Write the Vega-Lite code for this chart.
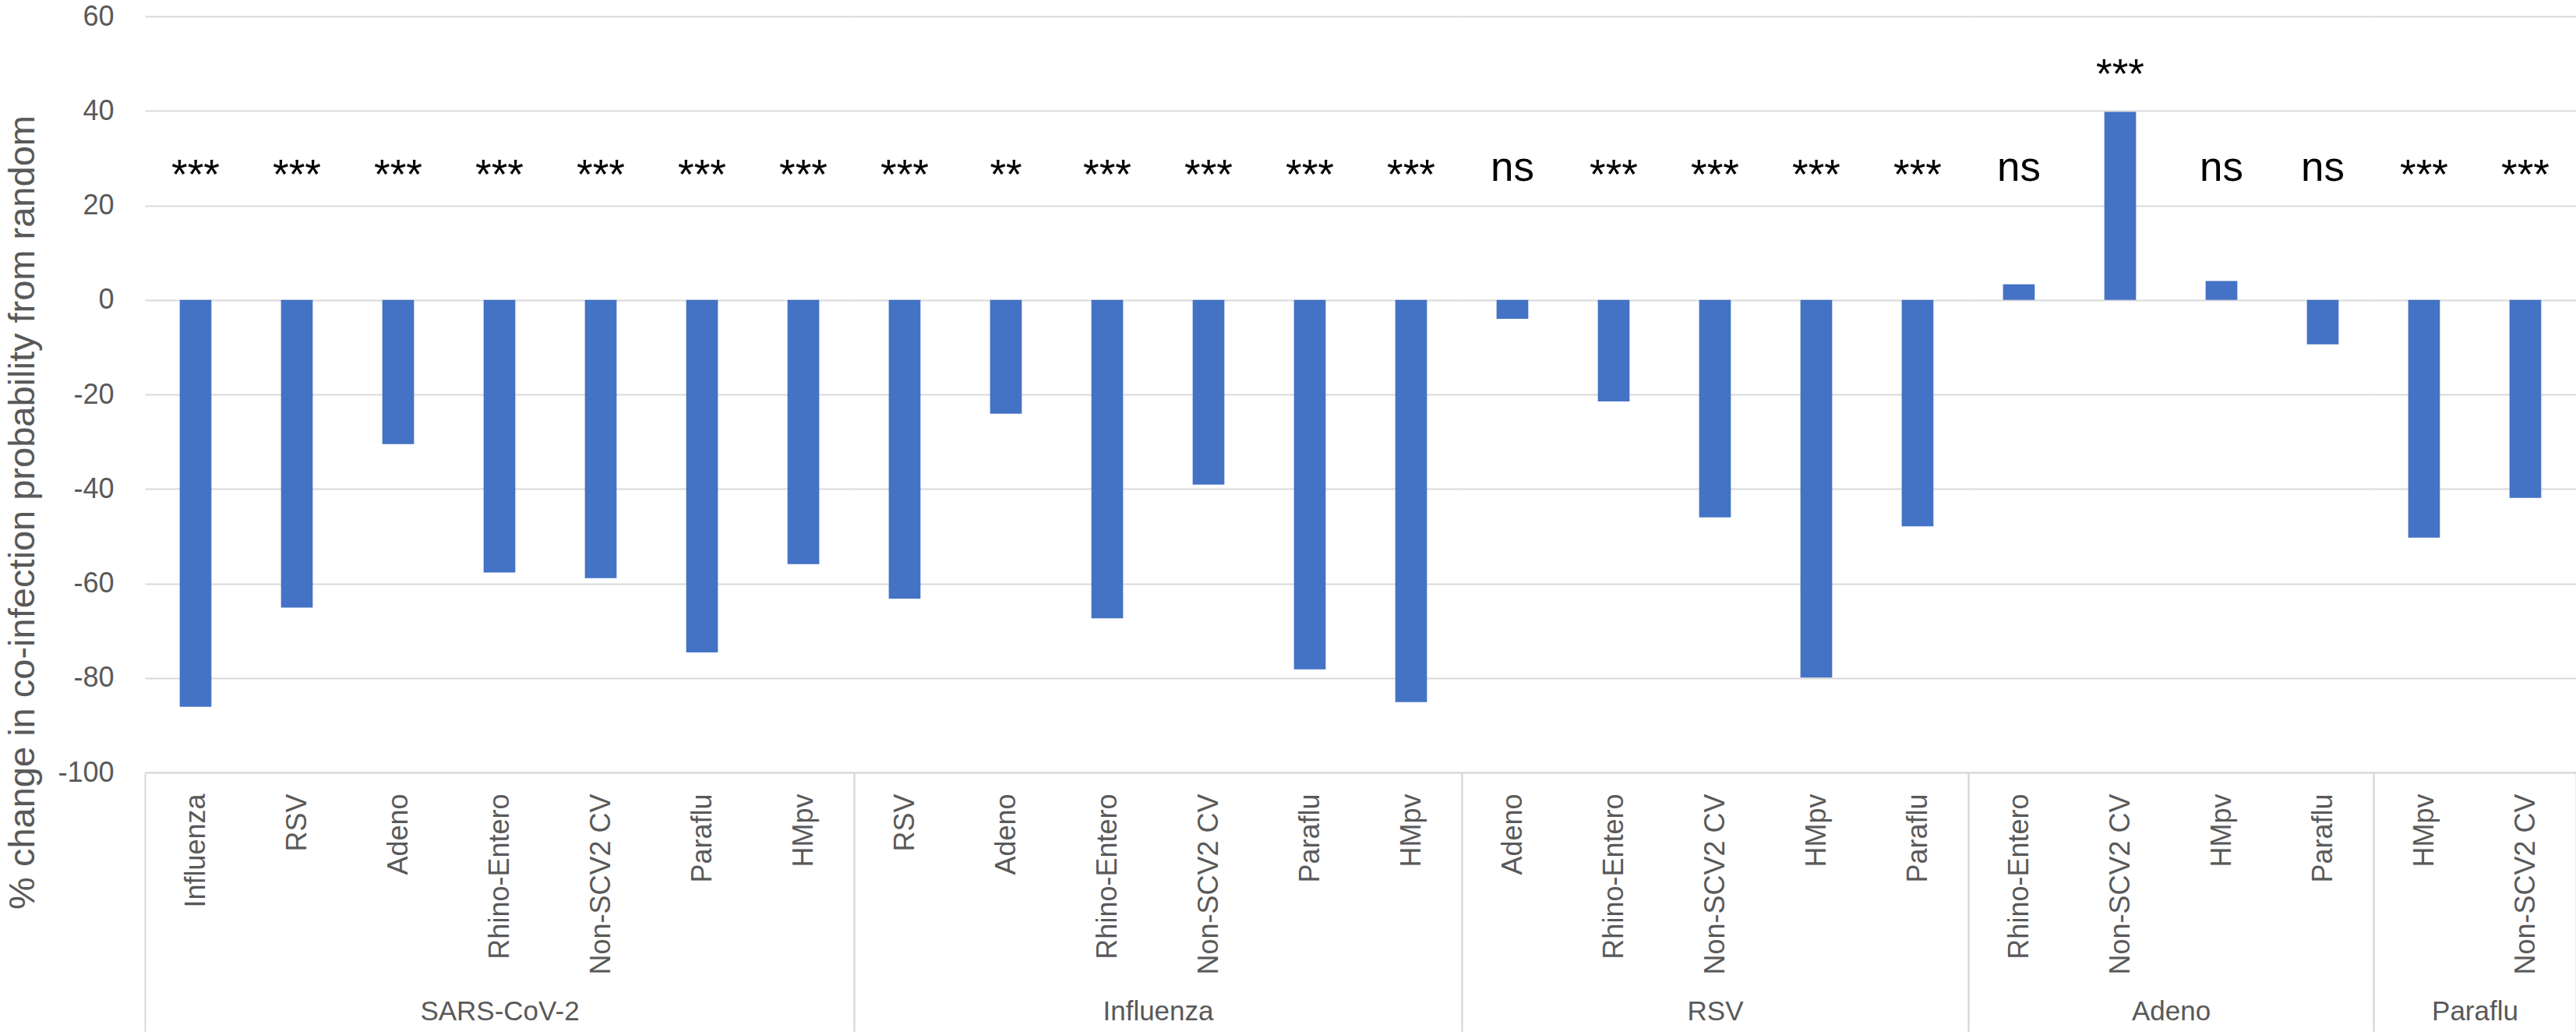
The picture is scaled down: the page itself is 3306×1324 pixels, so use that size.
{
  "$schema": "https://vega.github.io/schema/vega-lite/v6.json",
  "padding": {"left": 5, "top": 3, "right": 2, "bottom": 0},
  "background": "white",
  "data": {"values": [
    {"group": "SARS-CoV-2", "sub": "Influenza", "value": -86.1, "sig": "***"},
    {"group": "SARS-CoV-2", "sub": "RSV", "value": -65.1, "sig": "***"},
    {"group": "SARS-CoV-2", "sub": "Adeno", "value": -30.5, "sig": "***"},
    {"group": "SARS-CoV-2", "sub": "Rhino-Entero", "value": -57.7, "sig": "***"},
    {"group": "SARS-CoV-2", "sub": "Non-SCV2 CV", "value": -58.9, "sig": "***"},
    {"group": "SARS-CoV-2", "sub": "Paraflu", "value": -74.6, "sig": "***"},
    {"group": "SARS-CoV-2", "sub": "HMpv", "value": -55.9, "sig": "***"},
    {"group": "Influenza", "sub": "RSV", "value": -63.2, "sig": "***"},
    {"group": "Influenza", "sub": "Adeno", "value": -24.1, "sig": "**"},
    {"group": "Influenza", "sub": "Rhino-Entero", "value": -67.4, "sig": "***"},
    {"group": "Influenza", "sub": "Non-SCV2 CV", "value": -39.1, "sig": "***"},
    {"group": "Influenza", "sub": "Paraflu", "value": -78.2, "sig": "***"},
    {"group": "Influenza", "sub": "HMpv", "value": -85.1, "sig": "***"},
    {"group": "RSV", "sub": "Adeno", "value": -4.0, "sig": "ns"},
    {"group": "RSV", "sub": "Rhino-Entero", "value": -21.5, "sig": "***"},
    {"group": "RSV", "sub": "Non-SCV2 CV", "value": -46.0, "sig": "***"},
    {"group": "RSV", "sub": "HMpv", "value": -79.9, "sig": "***"},
    {"group": "RSV", "sub": "Paraflu", "value": -47.9, "sig": "***"},
    {"group": "Adeno", "sub": "Rhino-Entero", "value": 3.3, "sig": "ns"},
    {"group": "Adeno", "sub": "Non-SCV2 CV", "value": 39.8, "sig": "***"},
    {"group": "Adeno", "sub": "HMpv", "value": 4.0, "sig": "ns"},
    {"group": "Adeno", "sub": "Paraflu", "value": -9.4, "sig": "ns"},
    {"group": "Paraflu", "sub": "HMpv", "value": -50.3, "sig": "***"},
    {"group": "Paraflu", "sub": "Non-SCV2 CV", "value": -41.9, "sig": "***"}
  ]},
  "transform": [
    {"calculate": "datum.value > 20 ? datum.value + 5 : (datum.sig == 'ns' ? 25.2 : 23.5)", "as": "ly"}
  ],
  "spacing": 0,
  "bounds": "flush",
  "resolve": {"scale": {"x": "independent", "y": "independent"}, "axis": {"x": "independent", "y": "independent"}},
  "hconcat": [
    {
      "width": 910, "height": 970,
      "transform": [{"filter": "datum.group == 'SARS-CoV-2'"}],
      "encoding": {"x": {"field": "sub", "type": "nominal", "sort": null, "scale": {"paddingInner": 0, "paddingOuter": 0},
        "axis": {"title": "SARS-CoV-2", "titleFont": "Liberation Sans", "titleFontSize": 35, "titleFontWeight": "normal", "titleColor": "#595959", "titleY": 306, "titleBaseline": "middle", "labelAngle": -90, "labelAlign": "right", "labelBaseline": "middle", "labelFont": "Liberation Sans", "labelFontSize": 36, "labelColor": "#595959", "labelPadding": -305, "labelLimit": 0, "tickBand": "extent", "tickSize": 332, "tickWidth": 2, "tickColor": "#D9D9D9", "tickOpacity": {"condition": {"test": "datum.index < 0 || datum.index == 1", "value": 1}, "value": 0}, "domainColor": "#D9D9D9", "domainWidth": 2, "grid": false}}},
      "layer": [
        {"mark": {"type": "bar", "color": "#4472C4", "width": {"band": 0.313}},
         "encoding": {"y": {"field": "value", "type": "quantitative", "scale": {"domain": [-100, 60], "nice": false},
           "axis": {"title": "% change in co-infection probability from random", "titleFont": "Liberation Sans", "titleFontSize": 47, "titleFontWeight": "normal", "titleColor": "#595959", "titlePadding": 20, "titleY": 636, "values": [-100, -80, -60, -40, -20, 0, 20, 40, 60], "labelExpr": "'' + datum.value", "labelFont": "Liberation Sans", "labelFontSize": 36, "labelColor": "#595959", "labelPadding": 40, "ticks": false, "domain": false, "grid": true, "gridColor": "#D9D9D9", "gridWidth": 2}}}},
        {"mark": {"type": "text", "font": "Liberation Sans", "fontSize": 53, "baseline": "alphabetic", "align": "center", "color": "#000000"},
         "encoding": {"y": {"field": "ly", "type": "quantitative", "scale": {"domain": [-100, 60], "nice": false},
           "axis": {"title": "% change in co-infection probability from random", "titleFont": "Liberation Sans", "titleFontSize": 47, "titleFontWeight": "normal", "titleColor": "#595959", "titlePadding": 20, "titleY": 636, "values": [-100, -80, -60, -40, -20, 0, 20, 40, 60], "labelExpr": "'' + datum.value", "labelFont": "Liberation Sans", "labelFontSize": 36, "labelColor": "#595959", "labelPadding": 40, "ticks": false, "domain": false, "grid": true, "gridColor": "#D9D9D9", "gridWidth": 2}}, "text": {"field": "sig"}}}
      ]
    },
    {
      "width": 780, "height": 970,
      "transform": [{"filter": "datum.group == 'Influenza'"}],
      "encoding": {"x": {"field": "sub", "type": "nominal", "sort": null, "scale": {"paddingInner": 0, "paddingOuter": 0},
        "axis": {"title": "Influenza", "titleFont": "Liberation Sans", "titleFontSize": 35, "titleFontWeight": "normal", "titleColor": "#595959", "titleY": 306, "titleBaseline": "middle", "labelAngle": -90, "labelAlign": "right", "labelBaseline": "middle", "labelFont": "Liberation Sans", "labelFontSize": 36, "labelColor": "#595959", "labelPadding": -305, "labelLimit": 0, "tickBand": "extent", "tickSize": 332, "tickWidth": 2, "tickColor": "#D9D9D9", "tickOpacity": {"condition": {"test": "datum.index < 0 || datum.index == 1", "value": 1}, "value": 0}, "domainColor": "#D9D9D9", "domainWidth": 2, "grid": false}}},
      "layer": [
        {"mark": {"type": "bar", "color": "#4472C4", "width": {"band": 0.313}},
         "encoding": {"y": {"field": "value", "type": "quantitative", "scale": {"domain": [-100, 60], "nice": false},
           "axis": {"title": null, "values": [-100, -80, -60, -40, -20, 0, 20, 40, 60], "labels": false, "ticks": false, "domain": false, "grid": true, "gridColor": "#D9D9D9", "gridWidth": 2}}}},
        {"mark": {"type": "text", "font": "Liberation Sans", "fontSize": 53, "baseline": "alphabetic", "align": "center", "color": "#000000"},
         "encoding": {"y": {"field": "ly", "type": "quantitative", "scale": {"domain": [-100, 60], "nice": false},
           "axis": {"title": null, "values": [-100, -80, -60, -40, -20, 0, 20, 40, 60], "labels": false, "ticks": false, "domain": false, "grid": true, "gridColor": "#D9D9D9", "gridWidth": 2}}, "text": {"field": "sig"}}}
      ]
    },
    {
      "width": 650, "height": 970,
      "transform": [{"filter": "datum.group == 'RSV'"}],
      "encoding": {"x": {"field": "sub", "type": "nominal", "sort": null, "scale": {"paddingInner": 0, "paddingOuter": 0},
        "axis": {"title": "RSV", "titleFont": "Liberation Sans", "titleFontSize": 35, "titleFontWeight": "normal", "titleColor": "#595959", "titleY": 306, "titleBaseline": "middle", "labelAngle": -90, "labelAlign": "right", "labelBaseline": "middle", "labelFont": "Liberation Sans", "labelFontSize": 36, "labelColor": "#595959", "labelPadding": -305, "labelLimit": 0, "tickBand": "extent", "tickSize": 332, "tickWidth": 2, "tickColor": "#D9D9D9", "tickOpacity": {"condition": {"test": "datum.index < 0 || datum.index == 1", "value": 1}, "value": 0}, "domainColor": "#D9D9D9", "domainWidth": 2, "grid": false}}},
      "layer": [
        {"mark": {"type": "bar", "color": "#4472C4", "width": {"band": 0.313}},
         "encoding": {"y": {"field": "value", "type": "quantitative", "scale": {"domain": [-100, 60], "nice": false},
           "axis": {"title": null, "values": [-100, -80, -60, -40, -20, 0, 20, 40, 60], "labels": false, "ticks": false, "domain": false, "grid": true, "gridColor": "#D9D9D9", "gridWidth": 2}}}},
        {"mark": {"type": "text", "font": "Liberation Sans", "fontSize": 53, "baseline": "alphabetic", "align": "center", "color": "#000000"},
         "encoding": {"y": {"field": "ly", "type": "quantitative", "scale": {"domain": [-100, 60], "nice": false},
           "axis": {"title": null, "values": [-100, -80, -60, -40, -20, 0, 20, 40, 60], "labels": false, "ticks": false, "domain": false, "grid": true, "gridColor": "#D9D9D9", "gridWidth": 2}}, "text": {"field": "sig"}}}
      ]
    },
    {
      "width": 520, "height": 970,
      "transform": [{"filter": "datum.group == 'Adeno'"}],
      "encoding": {"x": {"field": "sub", "type": "nominal", "sort": null, "scale": {"paddingInner": 0, "paddingOuter": 0},
        "axis": {"title": "Adeno", "titleFont": "Liberation Sans", "titleFontSize": 35, "titleFontWeight": "normal", "titleColor": "#595959", "titleY": 306, "titleBaseline": "middle", "labelAngle": -90, "labelAlign": "right", "labelBaseline": "middle", "labelFont": "Liberation Sans", "labelFontSize": 36, "labelColor": "#595959", "labelPadding": -305, "labelLimit": 0, "tickBand": "extent", "tickSize": 332, "tickWidth": 2, "tickColor": "#D9D9D9", "tickOpacity": {"condition": {"test": "datum.index < 0 || datum.index == 1", "value": 1}, "value": 0}, "domainColor": "#D9D9D9", "domainWidth": 2, "grid": false}}},
      "layer": [
        {"mark": {"type": "bar", "color": "#4472C4", "width": {"band": 0.313}},
         "encoding": {"y": {"field": "value", "type": "quantitative", "scale": {"domain": [-100, 60], "nice": false},
           "axis": {"title": null, "values": [-100, -80, -60, -40, -20, 0, 20, 40, 60], "labels": false, "ticks": false, "domain": false, "grid": true, "gridColor": "#D9D9D9", "gridWidth": 2}}}},
        {"mark": {"type": "text", "font": "Liberation Sans", "fontSize": 53, "baseline": "alphabetic", "align": "center", "color": "#000000"},
         "encoding": {"y": {"field": "ly", "type": "quantitative", "scale": {"domain": [-100, 60], "nice": false},
           "axis": {"title": null, "values": [-100, -80, -60, -40, -20, 0, 20, 40, 60], "labels": false, "ticks": false, "domain": false, "grid": true, "gridColor": "#D9D9D9", "gridWidth": 2}}, "text": {"field": "sig"}}}
      ]
    },
    {
      "width": 260, "height": 970,
      "transform": [{"filter": "datum.group == 'Paraflu'"}],
      "encoding": {"x": {"field": "sub", "type": "nominal", "sort": null, "scale": {"paddingInner": 0, "paddingOuter": 0},
        "axis": {"title": "Paraflu", "titleFont": "Liberation Sans", "titleFontSize": 35, "titleFontWeight": "normal", "titleColor": "#595959", "titleY": 306, "titleBaseline": "middle", "labelAngle": -90, "labelAlign": "right", "labelBaseline": "middle", "labelFont": "Liberation Sans", "labelFontSize": 36, "labelColor": "#595959", "labelPadding": -305, "labelLimit": 0, "tickBand": "extent", "tickSize": 332, "tickWidth": 2, "tickColor": "#D9D9D9", "tickOpacity": {"condition": {"test": "datum.index < 0 || datum.index == 1", "value": 1}, "value": 0}, "domainColor": "#D9D9D9", "domainWidth": 2, "grid": false}}},
      "layer": [
        {"mark": {"type": "bar", "color": "#4472C4", "width": {"band": 0.313}},
         "encoding": {"y": {"field": "value", "type": "quantitative", "scale": {"domain": [-100, 60], "nice": false},
           "axis": {"title": null, "values": [-100, -80, -60, -40, -20, 0, 20, 40, 60], "labels": false, "ticks": false, "domain": false, "grid": true, "gridColor": "#D9D9D9", "gridWidth": 2}}}},
        {"mark": {"type": "text", "font": "Liberation Sans", "fontSize": 53, "baseline": "alphabetic", "align": "center", "color": "#000000"},
         "encoding": {"y": {"field": "ly", "type": "quantitative", "scale": {"domain": [-100, 60], "nice": false},
           "axis": {"title": null, "values": [-100, -80, -60, -40, -20, 0, 20, 40, 60], "labels": false, "ticks": false, "domain": false, "grid": true, "gridColor": "#D9D9D9", "gridWidth": 2}}, "text": {"field": "sig"}}}
      ]
    }
  ],
  "config": {"view": {"stroke": null}, "font": "Liberation Sans"}
}
